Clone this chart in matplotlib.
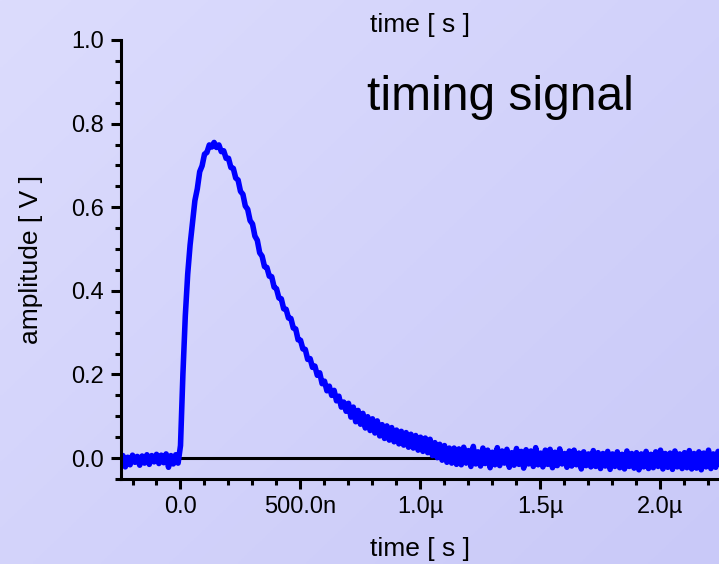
import numpy as np
import matplotlib
matplotlib.use("Agg")
import matplotlib.pyplot as plt
from matplotlib.ticker import MultipleLocator, FuncFormatter

plt.rcParams['font.family'] = ['Liberation Sans', 'DejaVu Sans']

t_start_ns = -250
t_step_ns = 10

pre_trigger = [
    -0.014, 0.006, -0.021, 0.002, -0.016, 0.007, -0.010, 0.004, -0.017,
    0.005, -0.012, 0.008, -0.015, 0.006, -0.009, 0.009, -0.013, 0.007,
    -0.011, 0.010, -0.022, 0.006, -0.014, 0.008, -0.012]

pulse = [
    0.030, 0.200, 0.340, 0.440, 0.510, 0.563, 0.616, 0.644, 0.685, 0.699,
    0.727, 0.731, 0.749, 0.744, 0.755, 0.743, 0.749, 0.733, 0.735, 0.717,
    0.717, 0.695, 0.693, 0.670, 0.665, 0.638, 0.631, 0.603, 0.595, 0.568,
    0.560, 0.531, 0.521, 0.491, 0.483, 0.458, 0.456, 0.435, 0.434, 0.409,
    0.405, 0.383, 0.381, 0.357, 0.356, 0.335, 0.334, 0.311, 0.309, 0.283,
    0.282, 0.261, 0.260, 0.236, 0.238, 0.217,
    0.220, 0.198, 0.204, 0.178, 0.184, 0.161, 0.172, 0.150, 0.162, 0.137,
    0.148, 0.122, 0.134, 0.112,
    0.131, 0.098, 0.122, 0.087, 0.114, 0.081, 0.107, 0.072, 0.099, 0.066,
    0.094, 0.060, 0.089, 0.053, 0.080, 0.047, 0.077, 0.043, 0.073, 0.039,
    0.067, 0.034, 0.064, 0.031, 0.061, 0.026, 0.057, 0.024, 0.054, 0.019,
    0.050, 0.016, 0.048, 0.013, 0.045, 0.006, 0.037, 0.001, 0.033, -0.005,
    0.030, -0.010, 0.024, -0.012, 0.024, -0.015]

tail = [
    0.022, -0.016, 0.026, -0.012, 0.018, -0.020, 0.028, -0.014, 0.015, -0.019,
    0.024, -0.013, 0.019, -0.023, 0.014, -0.016, 0.025, -0.018, 0.017, -0.012,
    0.021, -0.022, 0.013, -0.017, 0.023, -0.015, 0.016, -0.024, 0.020, -0.014,
    0.017, -0.020, 0.025, -0.016, 0.012, -0.021, 0.019, -0.015, 0.021, -0.023,
    0.014, -0.018, 0.022, -0.014, 0.011, -0.022, 0.017, -0.019, 0.019, -0.016,
    0.012, -0.026, 0.015, -0.018, 0.010, -0.021, 0.018, -0.020, 0.013, -0.025,
    0.011, -0.019, 0.016, -0.027, 0.010, -0.020, 0.015, -0.023, 0.009, -0.026,
    0.017, -0.020, 0.011, -0.024, 0.013, -0.028, 0.010, -0.021, 0.016, -0.025,
    0.009, -0.023, 0.015, -0.020, 0.019, -0.026, 0.011, -0.022, 0.012, -0.027,
    0.017, -0.021, 0.010, -0.025, 0.013, -0.023, 0.018, -0.026, 0.011, -0.024,
    0.015, -0.028, 0.012, -0.021, 0.019, -0.025, 0.010, -0.022, 0.016, -0.020]

amplitude = np.array(pre_trigger + pulse + tail)
time_s = (t_start_ns + t_step_ns * np.arange(len(amplitude))) * 1e-9

# %% figure
W, H = 719, 564
fig = plt.figure(figsize=(W / 100, H / 100), dpi=100)

# light lavender gradient background
bg = fig.add_axes([0, 0, 1, 1], zorder=-10)
gx, gy = np.meshgrid(np.linspace(0, 1, 200), np.linspace(0, 1, 200))
g = 0.55 * gx + 0.45 * gy
c0 = np.array([220, 220, 253]) / 255.
c1 = np.array([201, 201, 248]) / 255.
img = c0[None, None, :] * (1 - g[..., None]) + c1[None, None, :] * g[..., None]
bg.imshow(img, aspect='auto', extent=[0, 1, 0, 1], origin='upper')
bg.axis('off')

ax = fig.add_axes([120.5 / W, 85 / H, 600 / W, 439 / H])
ax.patch.set_alpha(0)

ax.axhline(0, color='black', lw=2.2, zorder=1)
ax.plot(time_s, amplitude, color='#0000ff', lw=4.0, zorder=2)

ax.set_xlim(-250e-9, 2250e-9)
ax.set_ylim(-0.05, 1.0)

for s in ['top', 'right']:
    ax.spines[s].set_visible(False)
for s in ['left', 'bottom']:
    ax.spines[s].set_linewidth(2.2)

ax.xaxis.set_major_locator(MultipleLocator(500e-9))
ax.xaxis.set_minor_locator(MultipleLocator(100e-9))
ax.yaxis.set_major_locator(MultipleLocator(0.2))
ax.yaxis.set_minor_locator(MultipleLocator(0.05))


def eng_fmt(x, pos):
    if abs(x) < 1e-12:
        return "0.0"
    if abs(x) < 1e-6:
        return "%.1fn" % (x * 1e9)
    return "%.1fµ" % (x * 1e6)


ax.xaxis.set_major_formatter(FuncFormatter(eng_fmt))
ax.yaxis.set_major_formatter(FuncFormatter(lambda y, p: "%.1f" % y))

ax.tick_params(which='major', direction='out', length=7, width=2.2,
               labelsize=17, pad=5)
ax.tick_params(which='minor', direction='out', length=4, width=2.2)

ax.set_xlabel("time [ s ]", fontsize=19, labelpad=14)
ax.set_ylabel("amplitude [ V ]", fontsize=19, labelpad=20)

fig.text(420 / W, (H - 32) / H, "time [ s ]", fontsize=19,
         ha='center', va='baseline')
fig.text(367 / W, (H - 110) / H, "timing signal", fontsize=34.5,
         ha='left', va='baseline')

fig.savefig('out.png', dpi=100)
